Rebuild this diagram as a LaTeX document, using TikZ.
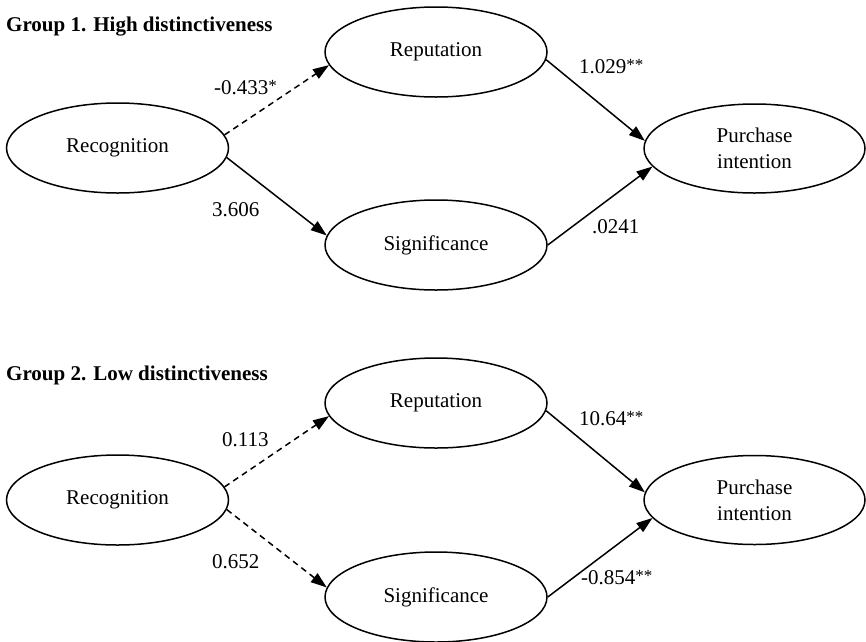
\documentclass[tikz,border=0pt]{standalone}
\usepackage{fontspec}
\setmainfont{Liberation Serif}
\usetikzlibrary{shapes.geometric,arrows.meta}
\newcommand{\sig}[1]{\raisebox{3pt}{\fontsize{17}{17}\selectfont #1}}
\begin{document}
\begin{tikzpicture}[x=1pt,y=1pt,
  every node/.style={font=\fontsize{21}{26}\selectfont},
  var/.style={draw, ellipse, line width=1.5pt, minimum width=222pt, minimum height=90pt, inner sep=0pt, align=center},
  arr/.style={line width=1.5pt, -{Triangle[length=16pt,width=11pt]}},
  dsh/.style={arr, dash pattern=on 6pt off 4.5pt},
  lbl/.style={anchor=west, inner sep=0pt},
  ttl/.style={anchor=west, inner sep=0pt, font=\fontsize{21}{26}\selectfont\bfseries}]
\useasboundingbox (0,0) rectangle (866,-641);

% Group 1
\node[ttl] (t1) at (6,-27) {Group 1. High distinctiveness};
\node[var] (rec1) at (117.5,-148) {Recognition};
\node[var] (rep1) at (436,-52) {Reputation};
\node[var] (sig1) at (436,-245) {Significance};
\node[var, minimum width=221pt, minimum height=89pt] (pi1) at (754.5,-148.5) {Purchase\\intention};

\draw[dsh] (rec1.7) -- (rep1.187);
\draw[arr] (rec1.-5) -- (sig1.175);
\draw[arr] (rep1.-4) -- (pi1.176);
\draw[arr] (sig1.0) -- (pi1.190);

\node[lbl] (l11) at (214,-88) {-0.433\sig{*}};
\node[lbl] (l12) at (212,-210) {3.606};
\node[lbl] (l13) at (579,-67) {1.029\sig{**}};
\node[lbl] (l14) at (592,-227) {.0241};

% Group 2
\node[ttl] (t2) at (6,-375) {Group 2. Low distinctiveness};
\node[var] (rec2) at (117.5,-500) {Recognition};
\node[var] (rep2) at (436,-403) {Reputation};
\node[var] (sig2) at (436,-597) {Significance};
\node[var, minimum width=221pt, minimum height=89pt] (pi2) at (754.5,-500) {Purchase\\intention};

\draw[dsh] (rec2.7) -- (rep2.187);
\draw[dsh] (rec2.-5) -- (sig2.175);
\draw[arr] (rep2.-4) -- (pi2.176);
\draw[arr] (sig2.0) -- (pi2.190);

\node[lbl] (l21) at (222,-440) {0.113};
\node[lbl] (l22) at (212,-562) {0.652};
\node[lbl] (l23) at (579,-419) {10.64\sig{**}};
\node[lbl] (l24) at (581,-578) {-0.854\sig{**}};
\end{tikzpicture}
\end{document}
